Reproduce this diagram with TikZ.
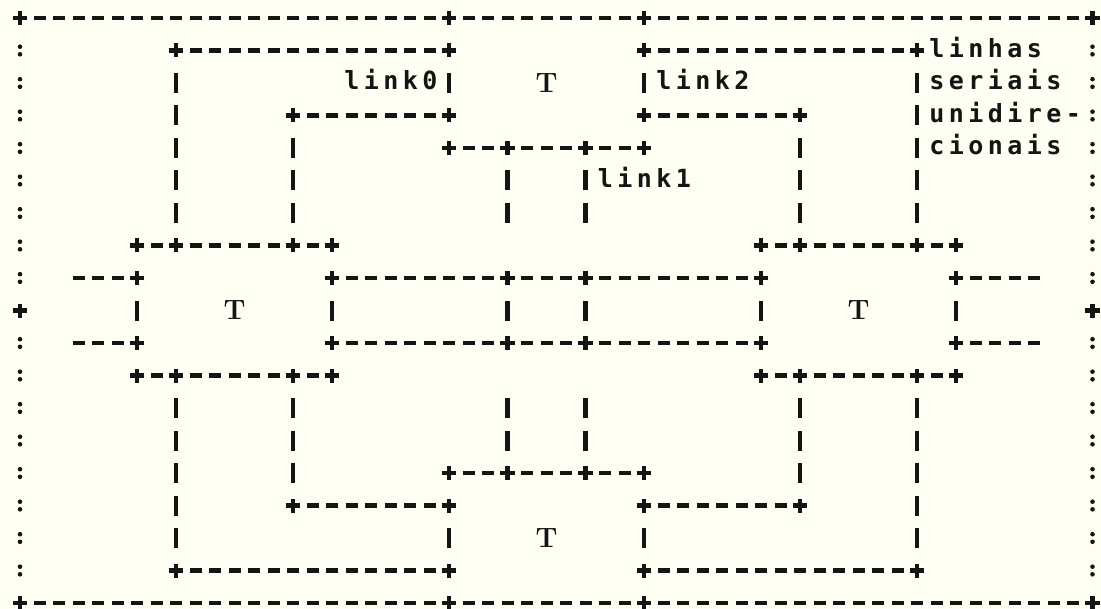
\documentclass[tikz,border=0pt]{standalone}
\usepackage{fontspec}
\usetikzlibrary{calc}
\newfontfamily\dotfont[LetterSpace=17.8]{DejaVu Sans Mono}
\definecolor{paper}{HTML}{FFFEF3}
\definecolor{ink}{HTML}{151515}

\tikzset{
  dashrun/.style={ink, line width=2.2pt, dash pattern=on 6pt off 3.75pt},
  bar/.style={ink, line width=2.2pt},
  dotlabel/.style={anchor=base west, inner sep=0pt, xshift=-3.8pt, yshift=-3.5pt, text=ink, font=\dotfont\bfseries\fontsize{12.5}{12.5}\selectfont},
  tlabel/.style={inner sep=0pt, text=ink, font=\bfseries\fontsize{14}{14}\selectfont}
}
% one printed character = one grid cell (column, row)
\newcommand\dashrow[3]{\draw[dashrun] ([xshift=-3pt]#2,#1) -- ([xshift=3pt]#3,#1);}
\newcommand\plusat[2]{\draw[bar] ([xshift=-3.7pt]#1,#2) -- ([xshift=3.7pt]#1,#2) ([yshift=-3.5pt]#1,#2) -- ([yshift=3.5pt]#1,#2);}
\newcommand\barat[2]{\draw[bar] ([yshift=-5pt]#1,#2) -- ([yshift=5pt]#1,#2);}
\newcommand\colonat[2]{\fill[ink] ([yshift=1.9pt]#1,#2) circle (1.15pt) ([yshift=-1.9pt]#1,#2) circle (1.15pt);}

\begin{document}
\begin{tikzpicture}[x=9.75pt, y=-16.25pt]
\fill[paper] (-10pt,9pt) rectangle (540.5pt,-295.5pt);
\useasboundingbox (-10pt,9pt) rectangle (540.5pt,-295.5pt);

% outer frame
\foreach \r in {0,18} {
  \dashrow{\r}{0}{55}
  \foreach \c in {0,22,32,55} {\plusat{\c}{\r}}
}
\foreach \r in {1,2,3,4,5,6,7,8,10,11,12,13,14,15,16,17} {
  \colonat{0}{\r}
  \colonat{55}{\r}
}
\plusat{0}{9}
\plusat{55}{9}

% transputer boxes and links
\foreach \r/\a/\b in {1/8/22, 1/32/46, 3/14/22, 3/32/40, 4/22/32,
    7/6/16, 7/38/48, 8/3/6, 8/16/38, 8/48/52,
    10/3/6, 10/16/38, 10/48/52, 11/6/16, 11/38/48,
    14/22/32, 15/14/22, 15/32/40, 17/8/22, 17/32/46}
  {\dashrow{\r}{\a}{\b}}
\foreach \r/\cols in {1/{8,22,32,46}, 3/{14,22,32,40}, 4/{22,25,29,32},
    7/{6,8,14,16,38,40,46,48}, 8/{6,16,25,29,38,48},
    10/{6,16,25,29,38,48}, 11/{6,8,14,16,38,40,46,48},
    14/{22,25,29,32}, 15/{14,22,32,40}, 17/{8,22,32,46}}
  {\foreach \c in \cols {\plusat{\c}{\r}}}
\foreach \c/\rows in {8/{2,3,4,5,6,12,13,14,15,16}, 14/{4,5,6,12,13,14},
    22/{2,16}, 32/{2,16}, 25/{5,6,9,12,13}, 29/{5,6,9,12,13},
    40/{4,5,6,12,13,14}, 46/{2,3,4,5,6,12,13,14,15,16},
    6/{9}, 16/{9}, 38/{9}, 48/{9}}
  {\foreach \r in \rows {\barat{\c}{\r}}}

% labels
\node[dotlabel] (link0) at (17,2) {link0};
\node[dotlabel] (link1) at (30,5) {link1};
\node[dotlabel] (link2) at (33,2) {link2};
\node[dotlabel] (linhas) at (47,1) {linhas};
\node[dotlabel] (seriais) at (47,2) {seriais};
\node[dotlabel] (unidire) at (47,3) {unidire-};
\node[dotlabel] (cionais) at (47,4) {cionais};

\node[tlabel] (tnorth) at (27,2) {T};
\node[tlabel] (twest) at (11,9) {T};
\node[tlabel] (teast) at (43,9) {T};
\node[tlabel] (tsouth) at (27,16) {T};
\end{tikzpicture}
\end{document}
